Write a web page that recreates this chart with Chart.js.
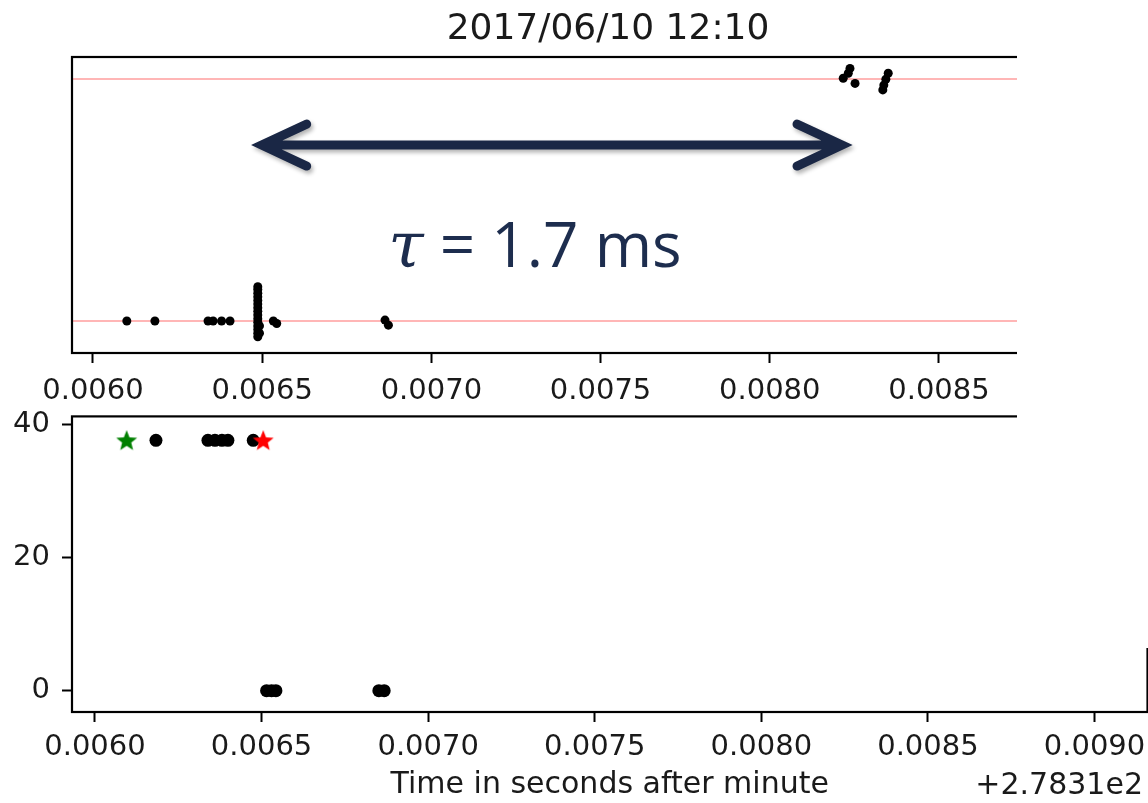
<!DOCTYPE html>
<html>
<head>
<meta charset="utf-8">
<title>2017/06/10 12:10</title>
<script src="https://cdn.jsdelivr.net/npm/chart.js@4.4.0/dist/chart.umd.min.js"></script>
<style>
    body { margin: 0; background: #fff; width: 1148px; height: 803px; overflow: hidden; position: relative; }
    #top-wrap { position: absolute; left: 0; top: 0; }
    #bottom-wrap { position: absolute; left: 0; top: 387px; }
    /* the right part of the upper figure is cut away in the original */
    #mask { position: absolute; left: 1017px; top: 0; width: 131px; height: 648px; background: #fff; }
</style>
</head>
<body>
<div id="top-wrap"><canvas id="top-chart" width="1148" height="400"></canvas></div>
<div id="bottom-wrap"><canvas id="bottom-chart" width="1154" height="416"></canvas></div>
<div id="mask"></div>

<script>
var chartTitle = '2017/06/10 12:10';
var xLabel = 'Time in seconds after minute';
var offsetText = '+2.7831e2';

// tick labels
var topTicks = [0.0060, 0.0065, 0.0070, 0.0075, 0.0080, 0.0085];
var bottomTicks = [0.0060, 0.0065, 0.0070, 0.0075, 0.0080, 0.0085, 0.0090];
var countTicks = [0, 20, 40];

// upper panel: the two signal levels sit at 0 and 1
var refLevels = [0, 1];
var topTimes = [
    0.006100, 0.006183, 0.006340, 0.006355, 0.006380, 0.006405,
    0.006487, 0.006487, 0.006487, 0.006487, 0.006487, 0.006487, 0.006487, 0.006487,
    0.006487, 0.006487, 0.006487, 0.006487, 0.006487, 0.006487, 0.006487,
    0.006492, 0.006492, 0.006533, 0.006543,
    0.006863, 0.006873,
    0.008217, 0.008232, 0.008237, 0.008252,
    0.008334, 0.008337, 0.008343, 0.008350
];
var topValues = [
    0, 0, 0, 0, 0, 0,
    -0.065, -0.050, -0.035, -0.020, -0.005, 0.010, 0.025, 0.040,
    0.055, 0.070, 0.085, 0.100, 0.115, 0.130, 0.142,
    -0.050, -0.020, 0, -0.010,
    0.004, -0.017,
    1.003, 1.024, 1.044, 0.982,
    0.955, 0.975, 0.999, 1.024
];

// lower panel
var dotTimes = [0.006183, 0.006339, 0.006360, 0.006381, 0.006399, 0.006475,
    0.006515, 0.006530, 0.006543, 0.006852, 0.006868];
var dotValues = [37.6, 37.6, 37.6, 37.6, 37.6, 37.6,
    0, 0, 0, 0, 0];
var firstTimes = [0.006095];
var firstValues = [37.6];
var lastTimes = [0.006505];
var lastValues = [37.6];

// annotation
var tauText = '1.7 ms';
var arrowFrom = 0.006469;
var arrowTo = 0.008243;
var arrowLevel = 0.727;
var tauTime = 0.007306;
var tauLevel = 0.223;

function toPoints(xs, ys) {
    return xs.map(function(x, i) { return {x: x, y: ys[i]}; });
}

function makeStar(color) {
    var c = document.createElement('canvas');
    c.width = 24; c.height = 24;
    var g = c.getContext('2d');
    g.beginPath();
    for (var i = 0; i < 10; i++) {
        var r = i % 2 === 0 ? 11 : 4.8;
        var a = -Math.PI / 2 + i * Math.PI / 5;
        g.lineTo(12 + r * Math.cos(a), 12.8 + r * Math.sin(a));
    }
    g.closePath();
    g.fillStyle = color;
    g.fill();
    return c;
}

var tickFont = {family: 'DejaVu Sans', size: 29};

function xAxis(min, max, tickList, height, withTitle) {
    return {
        type: 'linear',
        min: min,
        max: max,
        afterBuildTicks: function(scale) {
            scale.ticks = tickList.map(function(v) { return {value: v}; });
        },
        afterFit: function(scale) { scale.height = height; },
        border: {display: false},
        grid: {drawOnChartArea: false, tickLength: 10, tickWidth: 2, tickColor: '#000'},
        ticks: {
            font: tickFont, color: '#1a1a1a', padding: withTitle ? 8 : 11, autoSkip: false, maxRotation: 0,
            callback: function(v) { return v.toFixed(4); }
        },
        title: {
            display: withTitle, text: xLabel, font: {family: 'DejaVu Sans', size: 30}, color: '#1a1a1a',
            padding: {top: 0, bottom: 0}
        }
    };
}

var framePlugin = {
    id: 'frame',
    afterDraw: function(chart) {
        var a = chart.chartArea, ctx = chart.ctx;
        ctx.save();
        ctx.strokeStyle = '#000';
        ctx.lineWidth = 2.2;
        ctx.strokeRect(a.left, a.top, a.right - a.left, a.bottom - a.top);
        ctx.restore();
    }
};

var refLinePlugin = {
    id: 'refLines',
    beforeDatasetsDraw: function(chart) {
        var a = chart.chartArea, ctx = chart.ctx, ys = chart.scales.y;
        ctx.save();
        ctx.strokeStyle = '#ff9e9e';
        ctx.lineWidth = 1.6;
        refLevels.forEach(function(v) {
            var py = ys.getPixelForValue(v);
            ctx.beginPath();
            ctx.moveTo(a.left, py);
            ctx.lineTo(a.right, py);
            ctx.stroke();
        });
        ctx.restore();
    }
};

var annotatePlugin = {
    id: 'annotate',
    afterDraw: function(chart) {
        var ctx = chart.ctx, xs = chart.scales.x, ys = chart.scales.y;
        var x1 = xs.getPixelForValue(arrowFrom) + 10;
        var x2 = xs.getPixelForValue(arrowTo) - 10;
        var y = ys.getPixelForValue(arrowLevel);
        ctx.save();
        ctx.strokeStyle = '#1a2745';
        ctx.lineWidth = 9;
        ctx.lineCap = 'round';
        ctx.lineJoin = 'miter';
        ctx.shadowColor = 'rgba(0,0,0,0.3)';
        ctx.shadowBlur = 4;
        ctx.shadowOffsetX = 2;
        ctx.shadowOffsetY = 3;
        ctx.beginPath();
        ctx.moveTo(x1 + 4, y);
        ctx.lineTo(x2 - 4, y);
        ctx.moveTo(x1 + 45, y - 21);
        ctx.lineTo(x1, y);
        ctx.lineTo(x1 + 45, y + 21);
        ctx.moveTo(x2 - 45, y - 21);
        ctx.lineTo(x2, y);
        ctx.lineTo(x2 - 45, y + 21);
        ctx.stroke();
        ctx.restore();

        // tau label
        var cx = xs.getPixelForValue(tauTime);
        var by = ys.getPixelForValue(tauLevel);
        ctx.save();
        ctx.fillStyle = '#1d2d4e';
        ctx.textBaseline = 'alphabetic';
        var tauFont = 'italic 64px "DejaVu Serif"';
        var restFont = '62px "Open Sans"';
        var rest = ' = ' + tauText;
        ctx.font = tauFont;
        var w1 = ctx.measureText('\u03c4').width;
        ctx.font = restFont;
        var w2 = ctx.measureText(rest).width;
        var left = cx - (w1 + w2) / 2;
        ctx.font = tauFont;
        ctx.fillText('\u03c4', left, by);
        ctx.font = restFont;
        ctx.fillText(rest, left + w1, by);
        ctx.restore();

        // figure title
        ctx.save();
        ctx.fillStyle = '#1a1a1a';
        ctx.font = '36px "DejaVu Sans"';
        ctx.textAlign = 'center';
        ctx.textBaseline = 'middle';
        ctx.fillText(chartTitle, 608, 30);
        ctx.restore();
    }
};

var offsetPlugin = {
    id: 'offsetText',
    afterDraw: function(chart) {
        var ctx = chart.ctx;
        ctx.save();
        ctx.fillStyle = '#1a1a1a';
        ctx.font = '30px "DejaVu Sans"';
        ctx.textAlign = 'right';
        ctx.textBaseline = 'middle';
        ctx.fillText(offsetText, 1143, chart.height - 17);
        ctx.restore();
    }
};

new Chart(document.getElementById('top-chart'), {
    type: 'scatter',
    data: {
        datasets: [{
            data: toPoints(topTimes, topValues),
            backgroundColor: '#000',
            borderWidth: 0,
            pointRadius: 4.5
        }]
    },
    options: {
        responsive: false,
        animation: false,
        layout: {padding: {left: 72, top: 57, right: 108, bottom: 0}},
        plugins: {legend: {display: false}, tooltip: {enabled: false}},
        scales: {
            x: xAxis(0.005938, 0.0087985, topTicks, 47, false),
            y: {display: false, min: -0.132, max: 1.091}
        }
    },
    plugins: [refLinePlugin, framePlugin, annotatePlugin]
});

new Chart(document.getElementById('bottom-chart'), {
    type: 'scatter',
    data: {
        datasets: [{
            data: toPoints(firstTimes, firstValues),
            pointStyle: makeStar('#008000'),
            order: 0
        }, {
            data: toPoints(lastTimes, lastValues),
            pointStyle: makeStar('#ff0000'),
            order: 0
        }, {
            data: toPoints(dotTimes, dotValues),
            backgroundColor: '#000',
            borderWidth: 0,
            pointRadius: 6.5,
            order: 1
        }]
    },
    options: {
        responsive: false,
        animation: false,
        layout: {padding: {left: 0, top: 28, right: 1, bottom: 0}},
        plugins: {legend: {display: false}, tooltip: {enabled: false}},
        scales: {
            x: xAxis(0.005931, 0.009159, bottomTicks, 91, true),
            y: {
                min: -3.2,
                max: 41.2,
                afterBuildTicks: function(scale) {
                    scale.ticks = countTicks.map(function(v) { return {value: v}; });
                },
                afterFit: function(scale) { scale.width = 72; },
                border: {display: false},
                grid: {drawOnChartArea: false, tickLength: 10, tickWidth: 2, tickColor: '#000'},
                ticks: {font: tickFont, color: '#1a1a1a', padding: 12}
            }
        }
    },
    plugins: [framePlugin, offsetPlugin]
});
</script>
</body>
</html>
